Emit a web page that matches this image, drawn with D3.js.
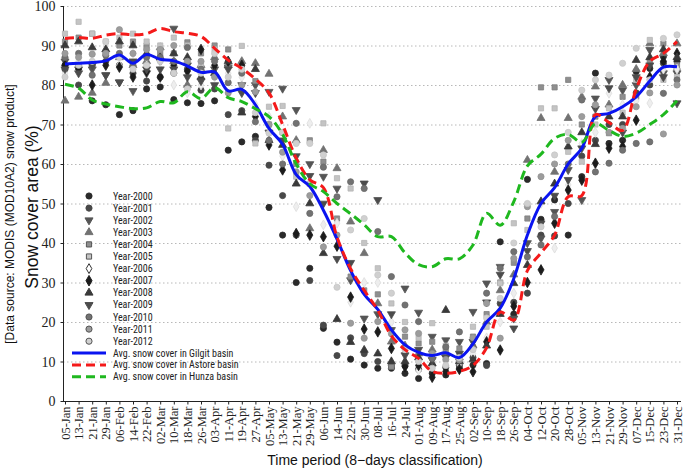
<!DOCTYPE html>
<html>
<head>
<meta charset="utf-8">
<script src="https://cdn.jsdelivr.net/npm/d3@7"></script>
<style>
  html, body { margin: 0; padding: 0; background: #fff; }
  svg { display: block; }
</style>
</head>
<body>
<svg id="chart" width="685" height="470"></svg>
<script>
// ---------------- DATA ----------------
const dates = ["05-Jan","13-Jan","21-Jan","29-Jan","06-Feb","14-Feb","22-Feb","02-Mar","10-Mar","18-Mar","26-Mar","03-Apr","11-Apr","19-Apr","27-Apr","05-May","13-May","21-May","29-May","06-Jun","14-Jun","22-Jun","30-Jun","08-Jul","16-Jul","24-Jul","01-Aug","09-Aug","17-Aug","25-Aug","02-Sep","10-Sep","18-Sep","26-Sep","04-Oct","12-Oct","20-Oct","28-Oct","05-Nov","13-Nov","21-Nov","29-Nov","07-Dec","15-Dec","23-Dec","31-Dec"];

const yTicks = [0,10,20,30,40,50,60,70,80,90,100];

const y2000 = [85,85,76,75,72.5,73.5,79,79.5,76.3,75.5,75.3,76,63.5,65.6,67,49,42,30,33.6,18.4,14.9,10.6,9.1,8.3,8.3,7,5.7,7,6.6,8.3,9.1,9.5,40.3,22,56.1,46,50.9,42,56.8,83,65.2,66,83.4,84.2,87.2,86];
const y2001 = [84,80,85,86,85,83,81,82,83,84,78.7,79,72.5,73.5,66,59.7,52,42,30.5,19.2,11.5,16,12,10,9,9,8,9,8.5,9,11,9,24.7,25,27.3,42,41.8,50,62,66,70,70,78,80,85.5,84];
const y2002 = [86,84,84,82.5,80.7,78.5,83,86,94.3,85,83,84,84.5,80,80,78.3,79.1,73.7,60,56.8,53.8,30.6,20.9,22,18,28.5,22.4,16.3,15.4,15,22.6,29.8,34,20.9,40,41.2,47.9,58.5,50.9,76.6,81.3,78.7,80,88.9,83,83];
const y2003 = [76,77,78,80.5,87,85,86,89.5,86,80,85,87,85,86,85.5,82.8,72,66,43.7,63.5,58.9,45.4,37.4,24.7,15,14,12,13,12,11,14,20,28,32,61,71.6,58,71.6,77,79.6,75,80,84,90.5,88,90.5];
const y2004 = [91,92,93,88,90,91,90,88,88,90.8,88,90,89,85,81,70,68,60,66,60.6,46.2,31.5,28,27,8.7,16.3,14.6,15,12.9,13.3,16.3,22,30,35,46.2,79.4,79.4,81.3,70,72,67.8,77,77,86,90.5,85];
const y2005 = [93,96,93,91,92,93,91,90,92,90,85,89,69,89.9,65.2,74.5,74.7,56.8,55,70.3,56.4,53.8,40,33.6,24.7,20,16,19.7,14,12,18.8,18.8,29.8,45,43.3,74.1,74.1,63.1,60.6,70,74.1,73,81.3,91.4,81.3,82];
const y2006 = [83,86,88,89,85,88,87,84,80,78,80,82,83,82,75,72,62,49.2,70.3,44.6,45,25,30,30,20,12,7.8,11,10,9.5,12,16,20,27.3,36,50,38.7,54.7,65.2,68,77.9,75,76,75.4,84,84];
const y2007 = [85,84,80,85,84.5,82,83.5,82,85,83.5,89,85,86,85,72,64.8,58.5,42.4,42,41.6,39.2,26.3,18.2,17.5,13.3,8.7,9,6,7.5,8,7.4,15,12.9,24,30,33.2,45,53.4,55.9,60.2,64,64.4,71.1,82,86,88];
const y2008 = [90,91,89.5,89,91,90,88,87,88,87,82,83,86,73,84,66,64.8,55,50,37.4,20.7,14.9,12.9,12,10,10,11,9.5,23,10,10.5,14,22,29.8,34.4,50.5,55,64.4,68,65,72,72,86.3,87,89,87];
const y2009 = [84,83,85,82.5,80.7,86,84,84,84,82,81,80,84,78,78,68,66,62,57,50,36,35,55.1,50.9,22,11.6,13,10.4,11,12,15,25,32,18.4,38,45,52,56,64,74,79.2,68,82,85,82,75.4];
const y2010 = [87,88,82.5,87.5,88,85,87,87,86,89.5,84,86,80.6,83,70.7,66,60,70.3,47.5,59.2,51.7,55.5,53.8,42.9,31.5,24.3,20.1,10.8,13.7,17.5,13.7,27.3,33.6,37.8,36.5,39.5,46.7,60,76.2,58,60.2,63.5,65.2,65.6,77.9,81.3];
const y2011 = [88,87,87.8,88,94,88,89,89,90,86,86,82,78,80,78.3,70,63,58,52,39,42,19.7,15.9,20.1,17,18,17.1,12,10.5,10.4,16,24.7,15.9,36.1,49.2,56.8,60,66,72,75,68,69,74.5,78,67.6,80];
const y2012 = [82,85,86,91,87,84,85,86,83,79,83,88,82,84,73,67.8,68,65.2,65.2,62.3,28.8,43.3,46.2,31.9,27.3,13,10,8.3,9,11,13,21,26,40,50,44.1,62.3,68,78.7,81.3,82.5,85.5,89.3,81.3,91.8,92.7];

const gilgit = [85.3,85.5,85.7,86.1,87.6,85.5,87.7,86.5,86.1,84.8,83.2,83.3,78.5,78.9,75,69,65,57.3,54.3,48.3,41,33,27,23.2,18,14.2,12.3,11.5,12.2,11,14.5,20,23.5,31,42,50,54,60,64,72,72.8,74.5,77,81,84.5,84.6];
const astore = [91.8,92,91.8,92.6,93,92.7,93,94.3,93.5,93.1,92.3,89.3,86.3,84.2,81.5,78,70,61.5,56,54,41.5,33.5,28,23,16.5,13,10.8,7.5,7,7.5,9,13.5,22.5,20.5,33,37.5,42,51.7,52,72.5,70.5,68.5,79,86,88,91];
const hunza = [80.2,79.2,76.2,75.2,74.5,74,74.2,75.8,75.5,78.3,76.6,79.3,76.8,75.8,74,72,67.5,60,55,53,50,47.4,44.6,41.6,41.6,37.5,34.5,34,36,36,39.5,47.5,44.5,50.5,59.5,62.5,66.5,67.5,65.5,70.2,68.5,67,67.8,70,72.5,76];

const yearNames = ["Year-2000","Year-2001","Year-2002","Year-2003","Year-2004","Year-2005","Year-2006","Year-2007","Year-2008","Year-2009","Year-2010","Year-2011","Year-2012"];
const yearValues = [y2000,y2001,y2002,y2003,y2004,y2005,y2006,y2007,y2008,y2009,y2010,y2011,y2012];
const lineNames = ["Avg. snow cover in Gilgit basin","Avg. snow cover in Astore basin","Avg. snow cover in Hunza basin"];
const lineValues = [gilgit, astore, hunza];

// ---------------- STYLES ----------------
const yearStyles = [
  {sym: d3.symbolCircle,   size: 30, fill: "#2a2a2a", stroke: "#2a2a2a"},
  {sym: d3.symbolCircle,   size: 30, fill: "#484848", stroke: "#484848"},
  {sym: "down",            size: 28, fill: "#555555", stroke: "#555555"},
  {sym: d3.symbolTriangle, size: 28, fill: "#727272", stroke: "#727272"},
  {sym: d3.symbolSquare,   size: 27, fill: "#8f8f8f", stroke: "#808080"},
  {sym: d3.symbolSquare,   size: 27, fill: "#c4c4c4", stroke: "#b5b5b5"},
  {sym: d3.symbolDiamond,  size: 28, fill: "#eeeeee", stroke: "#dddddd"},
  {sym: d3.symbolDiamond,  size: 32, fill: "#1c1c1c", stroke: "#1c1c1c"},
  {sym: d3.symbolTriangle, size: 28, fill: "#3a3a3a", stroke: "#3a3a3a"},
  {sym: "down",            size: 28, fill: "#4c4c4c", stroke: "#4c4c4c"},
  {sym: d3.symbolCircle,   size: 30, fill: "#727272", stroke: "#6a6a6a"},
  {sym: d3.symbolCircle,   size: 30, fill: "#9c9c9c", stroke: "#939393"},
  {sym: d3.symbolCircle,   size: 30, fill: "#d0d0d0", stroke: "#c6c6c6"}
];
const lineStyles = [
  {color: "#0a14f0", dash: null},
  {color: "#f41a1a", dash: "9,5"},
  {color: "#1fb81f", dash: "9,5"}
];

// ---------------- CHART ----------------
const svg = d3.select("#chart");
const plot = {left: 63, right: 681, top: 6, bottom: 401};
const sansFont = "'Liberation Sans', Arial, sans-serif";
const narrowFont = "'Roboto Condensed', 'Liberation Sans', sans-serif";
const serifFont = "'Liberation Serif'";

const x = d3.scalePoint().domain(dates).range([65, 677]);
const y = d3.scaleLinear().domain([0, 100]).range([plot.bottom, plot.top]);

// gridlines
svg.append("g").selectAll("line").data(yTicks.filter(d => d > 0)).join("line")
  .attr("x1", plot.left).attr("x2", plot.right)
  .attr("y1", d => y(d) + 0.5).attr("y2", d => y(d) + 0.5)
  .attr("stroke", "#b8b8b8").attr("stroke-width", 1).attr("stroke-dasharray", "1.5,2.5");

// y axis
const yAxis = d3.axisLeft(y).tickValues(yTicks).tickSize(3).tickPadding(5).tickFormat(d3.format("d"));
const gy = svg.append("g").attr("transform", `translate(${plot.left + 0.5},0)`).call(yAxis);
gy.attr("font-family", serifFont);
gy.select(".domain").attr("stroke", "#222").attr("d", `M0,${plot.top}V${plot.bottom}`);
gy.selectAll(".tick line").attr("stroke", "#222");
gy.selectAll("text").style("font-family", serifFont)
  .style("font-size", "14px").attr("fill", "#222").attr("dy", "0.35em");

// x axis
const xAxis = d3.axisBottom(x).tickSize(3).tickPadding(4);
const gx = svg.append("g").attr("transform", `translate(0,${plot.bottom + 0.5})`).call(xAxis);
gx.attr("font-family", serifFont);
gx.select(".domain").attr("stroke", "#222").attr("d", `M${plot.left},0H${plot.right}`);
gx.selectAll(".tick line").attr("stroke", "#222");
gx.selectAll("text")
  .style("font-family", serifFont)
  .style("font-size", "12.5px").attr("fill", "#222")
  .attr("text-anchor", "end")
  .attr("transform", "rotate(-90)")
  .attr("x", -5).attr("y", 0).attr("dy", "0.33em");

// symbol helpers
function symPath(st) {
  return d3.symbol(st.sym === "down" ? d3.symbolTriangle : st.sym, st.size)();
}
function symTransform(st, px, py) {
  return st.sym === "down" ? `translate(${px},${py}) rotate(180)` : `translate(${px},${py})`;
}

// scatter
yearValues.forEach((vals, k) => {
  const st = yearStyles[k];
  svg.append("g").attr("class", "yr").selectAll("path").data(vals).join("path")
    .attr("d", symPath(st))
    .attr("transform", (d, i) => symTransform(st, x(dates[i]), y(d)))
    .attr("fill", st.fill).attr("stroke", st.stroke).attr("stroke-width", 0.8);
});

// lines
const lineGen = d3.line().x((d, i) => x(dates[i])).y(d => y(d)).curve(d3.curveCatmullRom.alpha(0.5));
lineValues.forEach((vals, k) => {
  const ls = lineStyles[k];
  svg.append("path").datum(vals)
    .attr("d", lineGen)
    .attr("fill", "none").attr("stroke", ls.color).attr("stroke-width", 3)
    .attr("stroke-dasharray", ls.dash);
});

// legend
const lg = svg.append("g");
yearNames.forEach((nm, k) => {
  const st = yearStyles[k];
  const ly = 196 + k * 12.1;
  lg.append("path").attr("d", symPath(st)).attr("transform", symTransform(st, 89, ly))
    .attr("fill", k === 6 ? "#ffffff" : st.fill)
    .attr("stroke", k === 6 ? "#333" : ([4,5,10,11,12].includes(k) ? "#555" : st.stroke))
    .attr("stroke-width", 1);
  lg.append("text").attr("x", 113).attr("y", ly).attr("dy", "0.35em")
    .style("font-family", narrowFont).style("font-size", "10px").attr("fill", "#222").text(nm);
});
lineNames.forEach((nm, k) => {
  const ls = lineStyles[k];
  const ly = 353 + k * 11.9;
  lg.append("line").attr("x1", 72).attr("x2", 106).attr("y1", ly).attr("y2", ly)
    .attr("stroke", ls.color).attr("stroke-width", 3).attr("stroke-dasharray", ls.dash);
  lg.append("text").attr("x", 113).attr("y", ly).attr("dy", "0.35em")
    .style("font-family", narrowFont).style("font-size", "10px").attr("fill", "#222").text(nm);
});

// axis titles
svg.append("text").attr("x", 375).attr("y", 465).attr("text-anchor", "middle")
  .style("font-family", sansFont).style("font-size", "14px").attr("fill", "#111")
  .text("Time period (8\u2212days classification)");
svg.append("text").attr("transform", "translate(38,207) rotate(-90)").attr("text-anchor", "middle")
  .style("font-family", sansFont).style("font-size", "17.5px").attr("fill", "#111")
  .text("Snow cover area (%)");
svg.append("text").attr("transform", "translate(14,214) rotate(-90)").attr("text-anchor", "middle")
  .style("font-family", sansFont).style("font-size", "12px").attr("fill", "#111")
  .text("[Data source: MODIS (MOD10A2) snow product]");
</script>
</body>
</html>
